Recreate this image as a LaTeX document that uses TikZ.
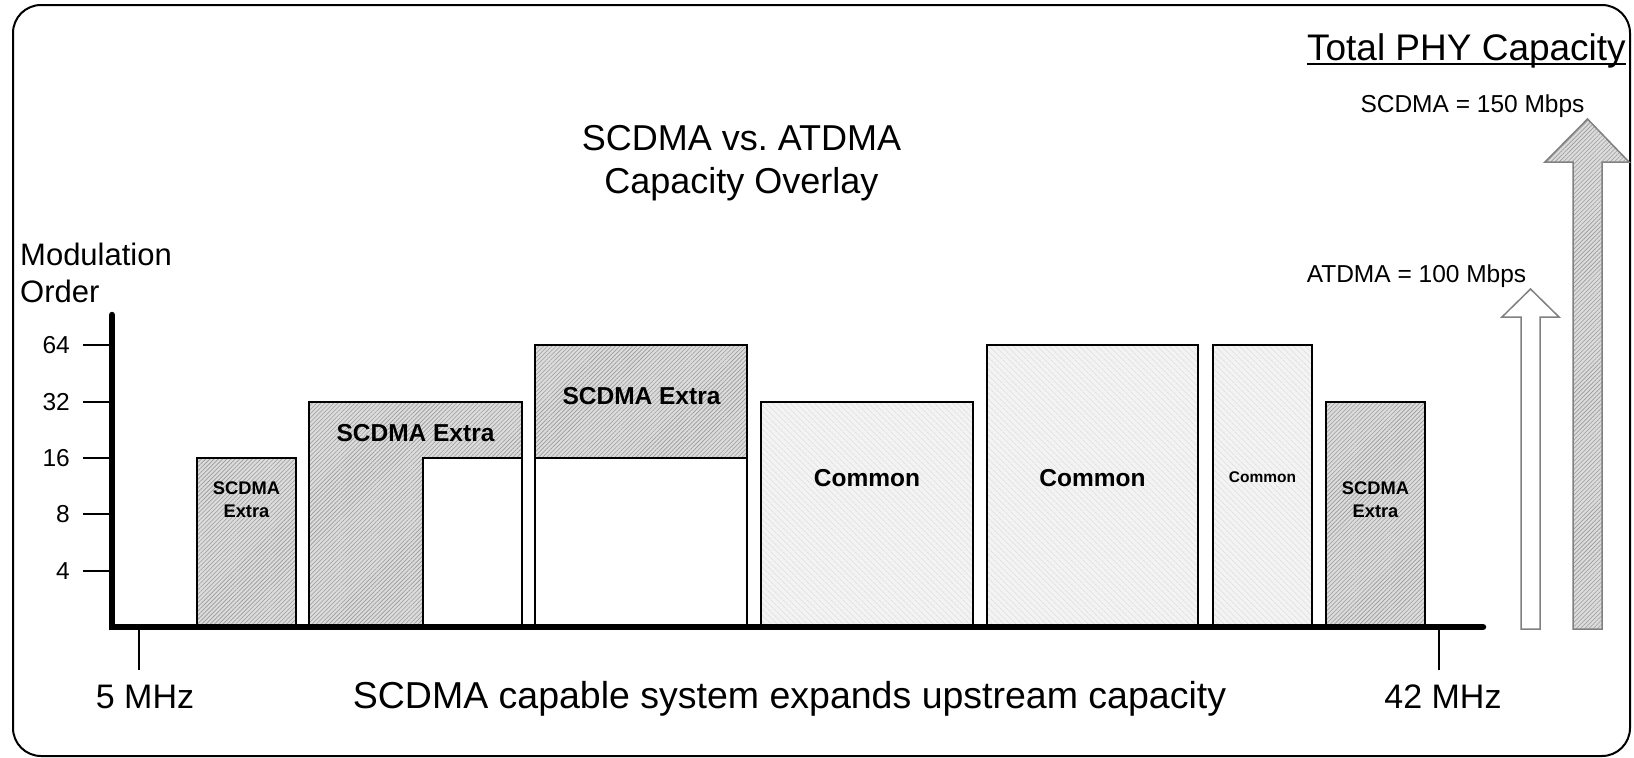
\documentclass[tikz,border=0pt]{standalone}
\usepackage{fontspec}
\setmainfont{Liberation Sans}
\usetikzlibrary{patterns.meta,calc}
\definecolor{darkfill}{HTML}{DCDCDC}
\definecolor{darkline}{HTML}{9A9A9A}
\definecolor{lightfill}{HTML}{F3F3F3}
\definecolor{lightline}{HTML}{D6D6D6}
\definecolor{arrowedge}{HTML}{808080}
\begin{document}
\begin{tikzpicture}[x=1pt,y=-1pt,
  darkbox/.style={draw=black,line width=2pt,preaction={fill=darkfill},
    pattern={Lines[angle=45,distance=3pt,line width=0.6pt]},pattern color=darkline},
  lightbox/.style={draw=black,line width=2pt,preaction={fill=lightfill},
    pattern={Lines[angle=-45,distance=4pt,line width=0.6pt]},pattern color=lightline},
  whitebox/.style={draw=black,line width=2pt,fill=white},
  axisline/.style={line width=6.5pt,line cap=round},
  tickline/.style={line width=2pt},
  freqtick/.style={line width=1.5pt},
  boxlabel/.style={font=\bfseries\fontsize{24.5}{29}\selectfont,inner sep=0pt},
  smalllabel/.style={font=\bfseries\fontsize{18.3}{23}\selectfont,inner sep=0pt,align=center},
  ticklabel/.style={font=\fontsize{24.5}{29}\selectfont,inner sep=0pt,anchor=east},
  arrowwhite/.style={draw=arrowedge,line width=1.5pt,fill=white},
  arrowdark/.style={draw=arrowedge,line width=1.5pt,preaction={fill=darkfill},
    pattern={Lines[angle=45,distance=3pt,line width=0.6pt]},pattern color=darkline}
]
\useasboundingbox (0,0) rectangle (1634,758);
% frame
\draw[line width=2pt,rounded corners=28pt] (13,5) rectangle (1630,756);

% titles
\node[font=\fontsize{36}{43}\selectfont,inner sep=0pt,anchor=base] (title1) at (741.5,150) {SCDMA vs.\ ATDMA};
\node[font=\fontsize{36}{43}\selectfont,inner sep=0pt,anchor=base] (title2) at (741.5,193) {Capacity Overlay};

% y-axis label
\node[font=\fontsize{31}{37}\selectfont,inner sep=0pt,anchor=base west] (ylab1) at (20,265) {Modulation};
\node[font=\fontsize{31}{37}\selectfont,inner sep=0pt,anchor=base west] (ylab2) at (20,302) {Order};

% boxes
\path[darkbox] (197,627) rectangle (296,458);
\path[darkbox] (309,627) rectangle (522,402);
\path[whitebox] (423,627) rectangle (522,458);
\path[darkbox] (535,458) rectangle (747,345);
\path[whitebox] (535,627) rectangle (747,458);
\path[lightbox] (761,627) rectangle (973,402);
\path[lightbox] (987,627) rectangle (1198,345);
\path[lightbox] (1213,627) rectangle (1312,345);
\path[darkbox] (1326,627) rectangle (1425,402);

% box labels
\node[smalllabel] (b1) at (246.5,500) {SCDMA\\Extra};
\node[boxlabel] (b2) at (415.5,433) {SCDMA Extra};
\node[boxlabel] (b3) at (641.5,396) {SCDMA Extra};
\node[boxlabel] (b4) at (867,478) {Common};
\node[boxlabel] (b5) at (1092.5,478) {Common};
\node[font=\bfseries\fontsize{15.5}{19}\selectfont,inner sep=0pt] (b6) at (1262.5,477) {Common};
\node[smalllabel] (b7) at (1375.5,500) {SCDMA\\Extra};

% axes
\coordinate (ytop) at (112,315);
\coordinate (origin) at (112,627);
\coordinate (xend) at (1483,627);
\draw[axisline] (ytop) -- (origin) -- (xend);

% y ticks
\foreach \v/\y in {64/345,32/402,16/458,8/514,4/571}{
  \draw[tickline] (83,\y) -- (110,\y);
  \node[ticklabel] (t\v) at (70,\y) {\v};
}

% frequency ticks
\coordinate (f5) at (139,627);
\coordinate (f5b) at (139,670);
\coordinate (f42) at (1439,627);
\coordinate (f42b) at (1439,670);
\draw[freqtick] (f5) -- (f5b);
\draw[freqtick] (f42) -- (f42b);
\node[font=\fontsize{34}{40}\selectfont,inner sep=0pt,anchor=base] (l5) at (145,708) {5 MHz};
\node[font=\fontsize{34}{40}\selectfont,inner sep=0pt,anchor=base] (l42) at (1443,708) {42 MHz};
\node[font=\fontsize{37.5}{45}\selectfont,inner sep=0pt,anchor=base] (caption) at (789.5,708) {SCDMA capable system expands upstream capacity};

% total capacity
\node[font=\fontsize{37}{44}\selectfont,inner sep=0pt,anchor=base east] (total) at (1626,60) {Total PHY Capacity};
\draw[line width=2pt] ($(total.base west)+(0,4)$) -- ($(total.base east)+(0,4)$);
\node[font=\fontsize{24.5}{29}\selectfont,inner sep=0pt,anchor=base] (sc) at (1472.5,112) {SCDMA = 150 Mbps};
\node[font=\fontsize{24.5}{29}\selectfont,inner sep=0pt,anchor=base] (at) at (1416.5,282) {ATDMA = 100 Mbps};

% capacity arrows
\draw[arrowwhite] (1521,629) -- (1521,317) -- (1502,317) -- (1530.5,289) -- (1559,317) -- (1540,317) -- (1540,629) -- cycle;
\draw[arrowdark] (1573,629) -- (1573,162) -- (1545,162) -- (1587.5,119) -- (1629,162) -- (1602,162) -- (1602,629) -- cycle;
\end{tikzpicture}
\end{document}
